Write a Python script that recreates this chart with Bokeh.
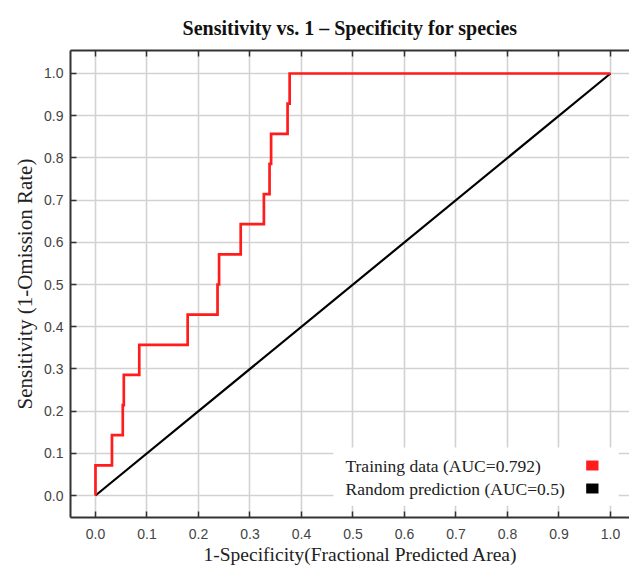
from bokeh.plotting import figure
from bokeh.models import Range1d, LinearAxis, FixedTicker, Title, BoxAnnotation, Label
from bokeh.embed import file_html
from bokeh.resources import INLINE

# ---- data ----
train_fpr = [0.0, 0.0, 0.032, 0.032, 0.053, 0.053, 0.055, 0.055, 0.085, 0.085,
             0.179, 0.179, 0.237, 0.237, 0.240, 0.240, 0.282, 0.282, 0.327, 0.327,
             0.338, 0.338, 0.341, 0.341, 0.373, 0.373, 0.377, 0.377, 1.0]
train_tpr = [0.0, 0.0714, 0.0714, 0.1429, 0.1429, 0.2143, 0.2143, 0.2857, 0.2857, 0.3571,
             0.3571, 0.4286, 0.4286, 0.5, 0.5, 0.5714, 0.5714, 0.6429, 0.6429, 0.7143,
             0.7143, 0.7857, 0.7857, 0.8571, 0.8571, 0.9286, 0.9286, 1.0, 1.0]
random_fpr = [0.0, 1.0]
random_tpr = [0.0, 1.0]
ticks = [0.0, 0.1, 0.2, 0.3, 0.4, 0.5, 0.6, 0.7, 0.8, 0.9, 1.0]
tick_labels = ["0.0", "0.1", "0.2", "0.3", "0.4", "0.5", "0.6", "0.7", "0.8", "0.9", "1.0"]
legend_labels = ["Training data (AUC=0.792)", "Random prediction (AUC=0.5)"]
legend_colors = ["#ff1c1c", "#000000"]

SERIF = "Liberation Serif"
SANS = "Liberation Sans"

p = figure(width=629, height=571,
           x_range=Range1d(-0.0485, 1.0369), y_range=Range1d(-0.0521, 1.0545),
           output_backend="svg", toolbar_location=None,
           min_border_left=70, min_border_right=0, min_border_top=50, min_border_bottom=54)
p.outline_line_color = None
p.background_fill_color = "white"
p.border_fill_color = "white"

p.title.text = "Sensitivity vs. 1 \u2013 Specificity for species"
p.title.text_font = SERIF
p.title.text_font_style = "bold"
p.title.text_font_size = "20px"
p.title.align = "center"
p.title.text_color = "#111111"
p.title.standoff = 24

label_map = {t: l for t, l in zip(ticks, tick_labels)}
ticker = FixedTicker(ticks=ticks, minor_ticks=[])

for ax in (p.xaxis[0], p.yaxis[0]):
    ax.ticker = ticker
    ax.major_label_overrides = label_map
    ax.major_label_text_font = SANS
    ax.major_label_text_font_size = "14px"
    ax.major_label_text_color = "#444444"
    ax.major_tick_in = 6
    ax.major_tick_out = 0
    ax.minor_tick_in = 0
    ax.minor_tick_out = 0
    ax.axis_line_color = "#333333"
    ax.axis_line_width = 2
    ax.major_tick_line_color = "#333333"
    ax.major_tick_line_width = 1.5
p.xaxis[0].major_label_standoff = 11
p.yaxis[0].major_label_standoff = 7

p.yaxis[0].axis_label = "Sensitivity (1-Omission Rate)"
p.yaxis[0].axis_label_text_font = SERIF
p.yaxis[0].axis_label_text_font_style = "normal"
p.yaxis[0].axis_label_text_font_size = "21px"
p.yaxis[0].axis_label_text_color = "#222222"
p.yaxis[0].axis_label_standoff = 4

# top frame edge with inward ticks, no labels
top_axis = LinearAxis(ticker=ticker, major_label_text_font_size="1px", major_label_text_color=None,
                      major_label_standoff=0,
                      major_tick_in=6, major_tick_out=0, minor_tick_in=0, minor_tick_out=0,
                      axis_line_color="#333333", axis_line_width=2,
                      major_tick_line_color="#333333", major_tick_line_width=1.5)
p.add_layout(top_axis, "above")

xlab = Title(text="1-Specificity(Fractional  Predicted Area)", align="left", offset=133,
             text_font=SERIF, text_font_style="normal", text_font_size="19.5px",
             text_color="#222222", standoff=0)
p.add_layout(xlab, "below")

p.xgrid.ticker = ticker
p.ygrid.ticker = ticker
for g in (p.xgrid[0], p.ygrid[0]):
    g.grid_line_color = "#d2d2d2"
    g.grid_line_width = 1.6

p.line(random_fpr, random_tpr, line_color=legend_colors[1], line_width=2.2)
p.line(train_fpr, train_tpr, line_color=legend_colors[0], line_width=2.7, line_join="miter")

# legend (drawn manually: label first, colour swatch after)
box = BoxAnnotation(left=0.462, right=1.016, bottom=-0.024, top=0.114,
                    fill_color="white", fill_alpha=1.0, line_color=None)
p.add_layout(box)
leg_y = [0.0711, 0.0166]
for txt, col, yy in zip(legend_labels, legend_colors, leg_y):
    p.add_layout(Label(x=0.4854, y=yy, text=txt, text_font=SERIF, text_font_size="17.5px",
                       text_baseline="middle", text_color="#222222"))
    p.add_layout(BoxAnnotation(left=0.9528, right=0.9767, bottom=yy - 0.0118, top=yy + 0.0118,
                               fill_color=col, fill_alpha=1.0, line_color=None))

open("out.html", "w").write(file_html(p, INLINE))
